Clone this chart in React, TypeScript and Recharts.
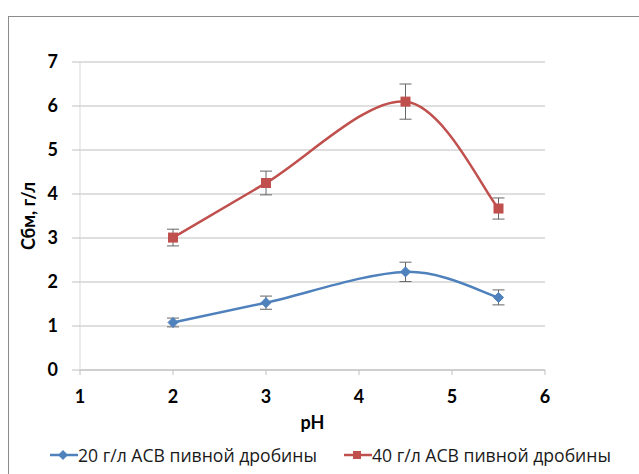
import React from "react";
import {
  LineChart,
  Line,
  XAxis,
  YAxis,
  CartesianGrid,
  ErrorBar,
} from "recharts";

const phValues = [2, 3, 4.5, 5.5];
const series20 = [1.08, 1.53, 2.23, 1.65];
const err20 = [0.1, 0.15, 0.22, 0.17];
const series40 = [3.01, 4.25, 6.1, 3.67];
const err40 = [0.19, 0.27, 0.4, 0.24];

const xTicks = [1, 2, 3, 4, 5, 6];
const yTicks = [0, 1, 2, 3, 4, 5, 6, 7];

const name20 = "20 г/л АСВ пивной дробины";
const name40 = "40 г/л АСВ пивной дробины";

const BLUE = "#4f81bd";
const RED = "#c0504d";

const chartData = phValues.map((ph, i) => ({
  ph,
  s20: series20[i],
  e20: err20[i],
  s40: series40[i],
  e40: err40[i],
}));

// Excel-style smoothed line (uniform Catmull-Rom as cubic beziers)
const excelCurve = (context: any) => {
  let pts: [number, number][] = [];
  return {
    areaStart() {},
    areaEnd() {},
    lineStart() {
      pts = [];
    },
    lineEnd() {
      if (!pts.length) return;
      context.moveTo(pts[0][0], pts[0][1]);
      for (let i = 0; i < pts.length - 1; i++) {
        const p0 = pts[i - 1] || pts[i];
        const p1 = pts[i];
        const p2 = pts[i + 1];
        const p3 = pts[i + 2] || p2;
        context.bezierCurveTo(
          p1[0] + (p2[0] - p0[0]) / 6,
          p1[1] + (p2[1] - p0[1]) / 6,
          p2[0] - (p3[0] - p1[0]) / 6,
          p2[1] - (p3[1] - p1[1]) / 6,
          p2[0],
          p2[1]
        );
      }
    },
    point(x: number, y: number) {
      pts.push([x, y]);
    },
  };
};

const Diamond = (props: any) => {
  const { cx, cy, index } = props;
  if (cx == null || cy == null) return <g key={`d${index}`} />;
  const r = 5;
  return (
    <path
      key={`d${index}`}
      d={`M${cx},${cy - r}L${cx + r},${cy}L${cx},${cy + r}L${cx - r},${cy}Z`}
      fill={BLUE}
      stroke={BLUE}
      strokeWidth={1}
    />
  );
};

const Square = (props: any) => {
  const { cx, cy, index } = props;
  if (cx == null || cy == null) return <g key={`s${index}`} />;
  const r = 4.5;
  return (
    <rect
      key={`s${index}`}
      x={cx - r}
      y={cy - r}
      width={r * 2}
      height={r * 2}
      fill={RED}
      stroke={RED}
      strokeWidth={1}
    />
  );
};

const tickFont = { fontFamily: "Lato", fontSize: 18, fontWeight: 700, fill: "#000" };

function LegendItem({ left, color, shape, label }: { left: number; color: string; shape: "diamond" | "square"; label: string }) {
  return (
    <div style={{ position: "absolute", left, top: 444, display: "flex", alignItems: "center", height: 22 }}>
      <svg width={28} height={22}>
        <line x1={0} y1={11} x2={28} y2={11} stroke={color} strokeWidth={2.5} />
        {shape === "diamond" ? (
          <path d="M13,6L18,11L13,16L8,11Z" fill={color} />
        ) : (
          <rect x={9} y={7} width={8} height={8} fill={color} />
        )}
      </svg>
      <span style={{ fontFamily: "Open Sans", fontSize: 17.6, color: "#1a1a1a", whiteSpace: "nowrap" }}>{label}</span>
    </div>
  );
}

export default function App() {
  return (
    <div style={{ position: "fixed", left: 0, top: 0, width: 639, height: 474, overflow: "hidden", background: "#fff" }}>
      <div
        style={{
          position: "absolute",
          left: 8,
          top: 16,
          width: 700,
          height: 520,
          border: "1px solid #8c8c8c",
          boxSizing: "border-box",
        }}
      />
      <div style={{ position: "absolute", left: 0, top: 0 }}>
        <LineChart
          width={639}
          height={474}
          data={chartData}
          margin={{ top: 62, right: 94, left: 0, bottom: 44 }}
        >
          <CartesianGrid vertical={false} stroke="#bfbfbf" strokeWidth={1} />
          <XAxis
            dataKey="ph"
            type="number"
            domain={[1, 6]}
            ticks={xTicks}
            height={60}
            tickSize={5}
            tickMargin={15}
            axisLine={{ stroke: "#bfbfbf" }}
            tickLine={{ stroke: "#bfbfbf" }}
            tick={tickFont}
            label={{
              value: "pH",
              position: "insideBottom",
              offset: 1,
              style: { fontFamily: "Lato", fontSize: 18, fontWeight: 700, fill: "#000" },
            }}
          />
          <YAxis
            type="number"
            domain={[0, 7]}
            ticks={yTicks}
            width={80}
            tickSize={8}
            tickMargin={14}
            axisLine={{ stroke: "#d9d9d9" }}
            tickLine={{ stroke: "#bfbfbf" }}
            tick={tickFont}
            label={{
              value: "Сбм, г/л",
              angle: -90,
              position: "insideLeft",
              offset: 29,
              style: { textAnchor: "middle", fontFamily: "Lato", fontSize: 18, fontWeight: 700, fill: "#000" },
            }}
          />
          <Line
            dataKey="s20"
            type={excelCurve as any}
            stroke={BLUE}
            strokeWidth={2.5}
            dot={Diamond}
            activeDot={false}
            isAnimationActive={false}
          >
            <ErrorBar dataKey="e20" width={6} stroke="#666" strokeWidth={1} />
          </Line>
          <Line
            dataKey="s40"
            type={excelCurve as any}
            stroke={RED}
            strokeWidth={2.5}
            dot={Square}
            activeDot={false}
            isAnimationActive={false}
          >
            <ErrorBar dataKey="e40" width={6} stroke="#666" strokeWidth={1} />
          </Line>
        </LineChart>
      </div>
      <LegendItem left={50} color={BLUE} shape="diamond" label={name20} />
      <LegendItem left={344} color={RED} shape="square" label={name40} />
    </div>
  );
}
